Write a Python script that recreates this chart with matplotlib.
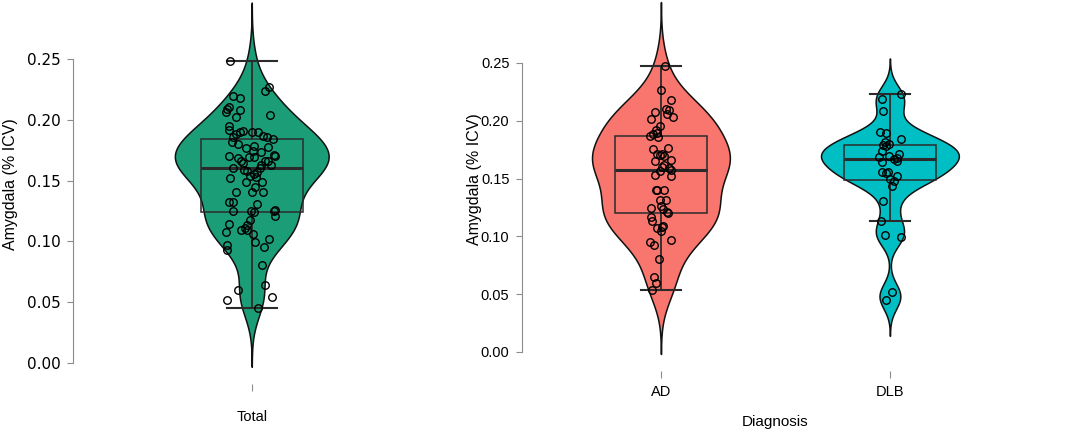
import numpy as np
import matplotlib
matplotlib.use("Agg")
import matplotlib.pyplot as plt

plt.rcParams['font.family'] = ['Liberation Sans', 'DejaVu Sans']

# values (amygdala volume, % ICV)
total_vals = [0.248, 0.2267, 0.2239, 0.2199, 0.2177, 0.2103, 0.2087, 0.2081, 0.2065, 0.2037,
              0.2021, 0.1952, 0.1917, 0.1898, 0.190, 0.190, 0.1881, 0.1862, 0.1867, 0.1843,
              0.1821, 0.1799, 0.1788, 0.1769, 0.1774, 0.1733, 0.1747, 0.1714, 0.1703, 0.1703,
              0.1698, 0.1692, 0.1665, 0.1659, 0.1659, 0.1643, 0.1626, 0.1602, 0.1602, 0.1588,
              0.158, 0.1572, 0.1555, 0.1539, 0.1533, 0.1525, 0.1492, 0.1492, 0.1451, 0.1405,
              0.1402, 0.1405, 0.1323, 0.132, 0.1309, 0.1257, 0.1246, 0.1243, 0.1248, 0.1250,
              0.121, 0.1177, 0.1142, 0.1136, 0.1106, 0.1095, 0.1095, 0.1079, 0.1062, 0.1019,
              0.0999, 0.0967, 0.0953, 0.0926, 0.0808, 0.0641, 0.0602, 0.0539, 0.0515, 0.0452,
              0.1905, 0.1855, 0.1683, 0.1625]
# horizontal jitter of each point (category units)
total_jit = [-0.073, 0.059, 0.043, -0.064, -0.039, -0.077, -0.082, -0.039, -0.088, 0.062,
             -0.053, -0.075, -0.077, 0.0, 0.020, -0.039, -0.053, -0.062, 0.039, 0.070,
             -0.065, -0.045, 0.006, -0.019, 0.053, 0.032, 0.003, 0.075, 0.079, -0.075,
             -0.008, 0.006, 0.056, -0.037, 0.046, -0.028, 0.064, -0.062, 0.026, -0.025,
             -0.017, 0.017, 0.006, -0.006, 0.015, -0.073, -0.019, 0.034, 0.011, 0.0,
             -0.054, 0.039, -0.075, -0.062, 0.017, 0.079, 0.073, 0.008, -0.064, -0.003,
             0.079, -0.006, -0.075, -0.017, -0.022, -0.035, -0.015, -0.086, 0.003, 0.059,
             0.012, -0.084, 0.041, -0.082, 0.034, 0.043, -0.045, 0.067, -0.082, 0.022,
             -0.030, 0.050, -0.047, 0.030]

ad_vals = [0.2477, 0.2264, 0.2177, 0.2102, 0.2079, 0.2091, 0.2059, 0.2033, 0.2018, 0.1952,
           0.1918, 0.1889, 0.1894, 0.1866, 0.1857, 0.1765, 0.1759, 0.1713, 0.1713, 0.1701,
           0.1698, 0.1649, 0.1658, 0.1615, 0.1597, 0.1592, 0.1572, 0.1563, 0.1534, 0.152,
           0.1398, 0.1398, 0.1398, 0.1318, 0.1318, 0.126, 0.1246, 0.1237, 0.1211, 0.1202,
           0.1168, 0.113, 0.1093, 0.1081, 0.107, 0.105, 0.0966, 0.0949, 0.0923, 0.0807,
           0.0649, 0.0597, 0.0533]
ad_jit = [0.019, 0.001, 0.044, 0.020, -0.028, 0.035, 0.026, 0.051, -0.042, -0.003,
          -0.020, -0.035, -0.016, -0.047, -0.012, 0.029, -0.035, 0.006, -0.019, -0.006,
          0.015, -0.028, 0.044, 0.015, 0.004, 0.035, 0.044, -0.006, -0.028, 0.045,
          -0.023, -0.017, 0.015, -0.006, 0.023, 0.0, -0.042, 0.009, 0.026, 0.031,
          -0.042, -0.038, 0.010, 0.003, -0.016, 0.001, 0.044, -0.047, -0.031, -0.009,
          -0.032, -0.020, -0.039]

dlb_vals = [0.2232, 0.2192, 0.2085, 0.190, 0.1894, 0.1815, 0.1795, 0.1843, 0.1790, 0.1779,
            0.1736, 0.1716, 0.1687, 0.1693, 0.1669, 0.1649, 0.1644, 0.1675, 0.1557, 0.156,
            0.1548, 0.1525, 0.1497, 0.1482, 0.1439, 0.1303, 0.1136, 0.1015, 0.0995, 0.0516,
            0.0447]
dlb_jit = [0.048, -0.036, -0.031, -0.044, -0.015, -0.020, -0.004, 0.047, -0.029, -0.017,
           -0.036, 0.041, -0.048, -0.003, 0.017, 0.033, -0.033, 0.029, -0.036, -0.007,
           -0.017, 0.029, 0.0, 0.017, 0.010, -0.029, -0.041, -0.022, 0.047, 0.010,
           -0.019]

groups = ["AD", "DLB"]
colors = {"Total": "#1B9E77", "AD": "#F8766D", "DLB": "#00BFC4"}

LINE = "#2b2b2b"
GRAY = "#8c8c8c"


def kde_outline(vals, n=512):
    # gaussian kde with R's bw.nrd0, extended 3 bandwidths past the data
    x = np.asarray(vals)
    q1, q3 = np.percentile(x, [25, 75])
    s = min(x.std(ddof=1), (q3 - q1) / 1.34)
    bw = 0.9 * s * len(x) ** -0.2
    grid = np.linspace(x.min() - 3 * bw, x.max() + 3 * bw, n)
    dens = np.exp(-0.5 * ((grid[:, None] - x[None, :]) / bw) ** 2).sum(axis=1)
    return grid, dens / dens.max()


def draw_group(ax, pos, vals, jit, color, vhalf, bhalf, chalf):
    y, d = kde_outline(vals)
    ax.fill_betweenx(y, pos - d * vhalf, pos + d * vhalf, facecolor=color,
                     edgecolor="#111111", linewidth=1.1, zorder=1)
    ax.boxplot([vals], positions=[pos], widths=2 * bhalf, capwidths=2 * chalf,
               whis=1.5, showfliers=False, manage_ticks=False, patch_artist=True,
               boxprops=dict(facecolor="none", edgecolor=LINE, linewidth=1.1),
               whiskerprops=dict(color=LINE, linewidth=1.3),
               capprops=dict(color=LINE, linewidth=1.5),
               medianprops=dict(color=LINE, linewidth=2.2), zorder=2)
    ax.plot(pos + np.asarray(jit), vals, "o", mfc="none", mec="black",
            ms=5.4, mew=1.0, zorder=3)


def style_axis(ax, tick_font, tick_size):
    for side in ["top", "right", "bottom"]:
        ax.spines[side].set_visible(False)
    ax.spines["left"].set_bounds(0, 0.25)
    ax.spines["left"].set_color(GRAY)
    ticks = np.arange(0, 0.26, 0.05)
    ax.set_yticks(ticks)
    ax.set_yticklabels(["%.2f" % v for v in ticks], family=tick_font, fontsize=tick_size)
    ax.tick_params(axis="y", colors=GRAY, labelcolor="black", length=4.5, pad=4.5)
    ax.tick_params(axis="x", colors=GRAY, labelcolor="black", length=5,
                   labelsize=10.5)


fig = plt.figure(figsize=(10.84, 4.33), dpi=100)

# left panel: whole sample
ax1 = fig.add_axes([0.0673, 0.1132, 0.3299, 0.8868])
draw_group(ax1, 1, total_vals, total_jit, colors["Total"], 0.258, 0.171, 0.084)
ax1.set_xlim(0.4, 1.6)
ax1.set_ylim(-0.01727, 0.2985)
style_axis(ax1, ["DejaVu Sans"], 11)
ax1.set_xticks([1])
ax1.set_xticklabels(["Total"])
ax1.tick_params(axis="x", pad=14)
ax1.set_ylabel("Amygdala (% ICV)", fontsize=11.5)
ax1.yaxis.set_label_coords(-0.155, 0.52)

# right panel: split by diagnosis
ax2 = fig.add_axes([0.4815, 0.1432, 0.4662, 0.8568])
draw_group(ax2, 1, ad_vals, ad_jit, colors["AD"], 0.301, 0.20, 0.087)
draw_group(ax2, 2, dlb_vals, dlb_jit, colors["DLB"], 0.301, 0.20, 0.087)
ax2.set_xlim(0.393, 2.6)
ax2.set_ylim(-0.01644, 0.3045)
style_axis(ax2, ["Liberation Sans"], 10.5)
ax2.set_xticks([1, 2])
ax2.set_xticklabels(groups)
ax2.tick_params(axis="x", pad=5)
ax2.set_ylabel("Amygdala (% ICV)", fontsize=11.5)
ax2.yaxis.set_label_coords(-0.079, 0.517)
ax2.set_xlabel("Diagnosis", fontsize=11)
ax2.xaxis.set_label_coords(0.501, -0.118)

fig.savefig("out.png", dpi=100)
